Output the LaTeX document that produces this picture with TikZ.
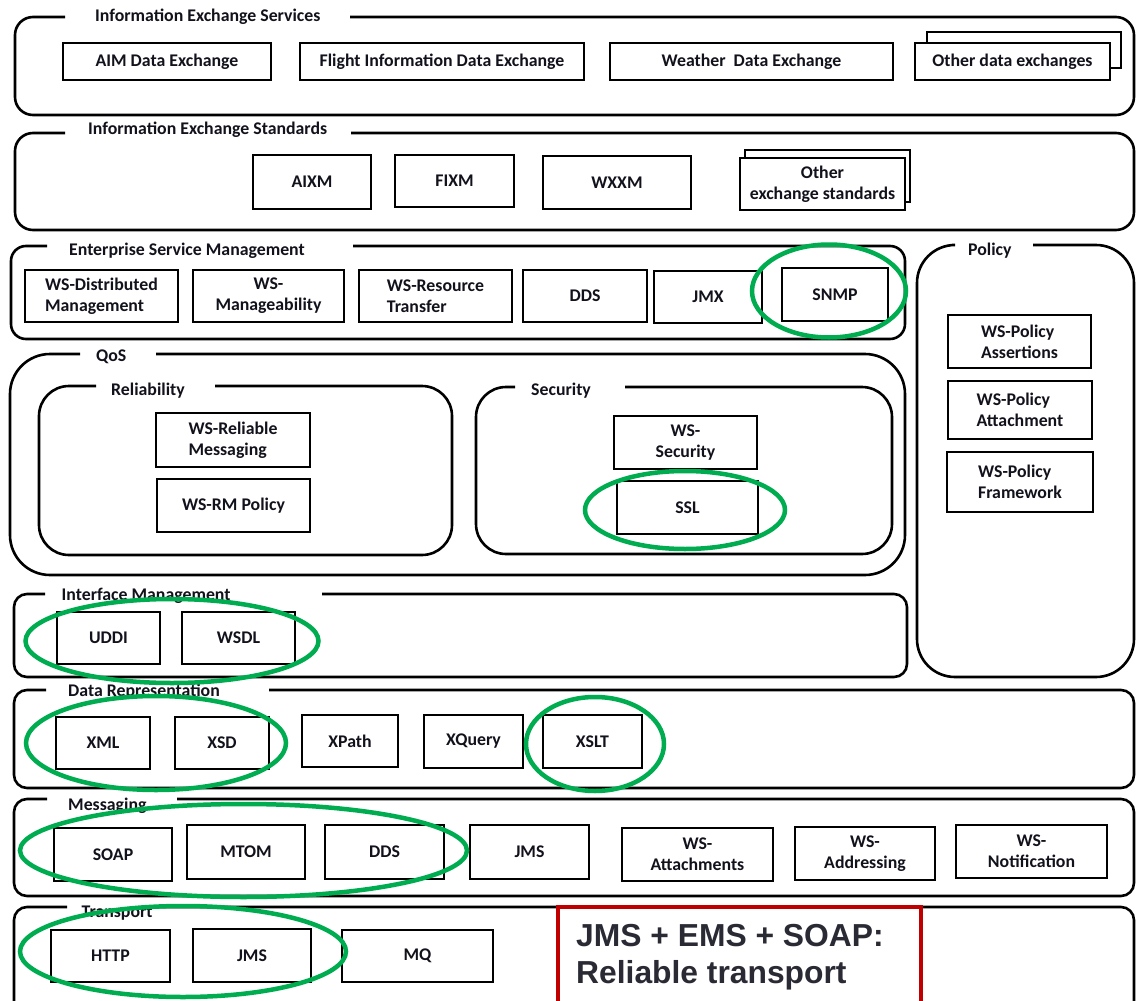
\documentclass[tikz,border=0pt]{standalone}
\usepackage{fontspec}
\setmainfont{Carlito}
\newfontfamily\arialf{Liberation Sans}
\usetikzlibrary{shapes.geometric}
\definecolor{ringgreen}{RGB}{0,172,80}
\definecolor{redbox}{RGB}{192,0,0}
\definecolor{txt}{RGB}{18,18,28}
\definecolor{redtxt}{RGB}{42,42,52}
\tikzset{
  panel/.style={line width=2.6pt, rounded corners=#1},
  panel/.default=14pt,
  box/.style={draw, line width=1.6pt, fill=white, align=center, inner sep=1pt,
    font=\bfseries\fontsize{17.8}{21}\selectfont, text=txt},
  thickbox/.style={line width=2.4pt},
  ptitle/.style={anchor=base west, inner sep=0pt, font=\bfseries\fontsize{17.8}{21}\selectfont, text=txt},
  ring/.style={draw=ringgreen, line width=4.5pt, ellipse, inner sep=0pt},
  redtext/.style={anchor=base west, inner sep=0pt, font=\arialf\bfseries\fontsize{31.8}{37}\selectfont, text=redtxt},
}
% panel: [radius]{x1}{y1}{x2}{y2}{gapL}{gapR}
\newcommand\panelpath[7][14pt]{\draw[panel=#1] (#7,#3) -- (#4,#3) -- (#4,#5) -- (#2,#5) -- (#2,#3) -- (#6,#3);}
% box: [opts]{x1}{y1}{x2}{y2}{name}{text}
\newcommand\bx[7][]{\node[box,#1,minimum width={#4-#2},minimum height={#5-#3}] (#6) at ({(#2+#4)/2},{(#3+#5)/2}) {#7};}
\begin{document}
\begin{tikzpicture}[x=1pt,y=-1pt]
\useasboundingbox (0,0) rectangle (1136,1001);
\fill[white] (0,0) rectangle (1136,1001);
\clip (0,0) rectangle (1136,1001);

% ---------- panels ----------
\panelpath[18pt]{15}{17}{1134}{115}{65}{350}
\panelpath[18pt]{15}{133}{1134}{230}{65}{351}
\panelpath[15pt]{11}{246}{905}{339}{47}{353}
\panelpath[38pt]{917}{245}{1134}{677}{952}{1033}
\panelpath[40pt]{10}{354}{905}{575}{80}{156}
\panelpath[30pt]{39}{386}{452}{555}{96}{215}
\panelpath[30pt]{476}{387}{892}{554}{515}{625}
\panelpath[13pt]{14}{594}{907}{677}{45}{322}
\panelpath[13pt]{14}{690}{1134}{788}{46}{269}
\panelpath[13pt]{14}{799}{1134}{896}{47}{177}
\panelpath[13pt]{14}{907}{1134}{1030}{67}{154}

% ---------- titles ----------
\node[ptitle] (tIES) at (95,21) {Information Exchange Services};
\node[ptitle] (tIEStd) at (88,134.5) {Information Exchange Standards};
\node[ptitle] (tESM) at (69,255) {Enterprise Service Management};
\node[ptitle] (tPol) at (968,255) {Policy};
\node[ptitle] (tQoS) at (96,361.5) {QoS};
\node[ptitle] (tRel) at (111,395) {Reliability};
\node[ptitle] (tSec) at (531,395) {Security};
\node[ptitle] (tIM) at (61.5,600.5) {Interface Management};
\node[ptitle] (tDR) at (68,696.5) {Data Representation};
\node[ptitle] (tMsg) at (68,810) {Messaging};
\node[ptitle] (tTr) at (81.5,917) {Transport};

% ---------- Information Exchange Services ----------
\bx[thickbox]{63}{43}{271}{80}{aim}{AIM Data Exchange}
\bx[thickbox]{300}{43}{584}{80}{fide}{Flight Information Data Exchange}
\bx[thickbox]{610}{43}{893}{80}{wde}{Weather\ \ Data Exchange}
\bx[thickbox]{927}{32}{1121}{68}{odeback}{}
\bx[thickbox]{915}{43}{1110}{80}{ode}{Other data exchanges}

% ---------- Information Exchange Standards ----------
\bx{253}{155}{371}{209}{aixm}{AIXM}
\bx{395}{155}{514}{207}{fixm}{FIXM}
\bx{543}{156}{691}{209}{wxxm}{WXXM}
\bx{745}{150}{910}{202}{oesback}{}
\bx{740}{158}{905}{210}{oes}{Other\\exchange standards}

% ---------- ESM ----------
\bx[align=left]{25}{270}{178}{322}{wsdm}{WS-Distributed\\Management}
\bx{193}{270}{344}{322}{wsman}{WS-\\Manageability}
\bx[align=left]{359}{270}{512}{322}{wsrt}{WS-Resource\\Transfer}
\bx{523}{270}{647}{322}{dds1}{DDS}
\bx{654}{271}{762}{323}{jmx}{JMX}
\bx{782}{268}{888}{321}{snmp}{SNMP}

% ---------- Policy ----------
\bx[align=left]{948}{315}{1091}{368}{wspa}{WS-Policy\\Assertions}
\bx[align=left]{948}{381}{1092}{439}{wspat}{WS-Policy\\Attachment}
\bx[align=left]{947}{452}{1093}{512}{wspf}{WS-Policy\\Framework}

% ---------- QoS ----------
\bx[align=left]{156}{413}{310}{467}{wsrm}{WS-Reliable\\Messaging}
\bx{157}{479}{310}{532}{wsrmp}{WS-RM Policy}
\bx{614}{416}{757}{469}{wssec}{WS-\\Security}
\bx{617}{481}{758}{534}{ssl}{SSL}

% ---------- Interface Management ----------
\bx{57}{612}{160}{664}{uddi}{UDDI}
\bx{182}{612}{295}{664}{wsdl}{WSDL}

% ---------- Data Representation ----------
\bx{56}{717}{150}{769}{xml}{XML}
\bx{175}{717}{269}{769}{xsd}{XSD}
\bx{302}{715}{398}{767}{xpath}{XPath}
\bx{424}{715}{523}{768}{xquery}{XQuery}
\bx{543}{715}{642}{768}{xslt}{XSLT}

% ---------- Messaging ----------
\bx{54}{828}{172}{881}{soap}{SOAP}
\bx{187}{825}{305}{879}{mtom}{MTOM}
\bx{325}{825}{444}{879}{dds2}{DDS}
\bx{470}{825}{589}{879}{jms1}{JMS}
\bx{622}{828}{773}{881}{wsatt}{WS-\\Attachments}
\bx{795}{827}{935}{880}{wsadd}{WS-\\Addressing}
\bx{956}{825}{1107}{878}{wsnot}{WS-\\Notification}

% ---------- Transport ----------
\bx{51}{930}{170}{982}{http}{HTTP}
\bx{193}{929}{311}{982}{jms2}{JMS}
\bx{342}{930}{493}{982}{mq}{MQ}

% ---------- green rings ----------
\node[ring, minimum width=154pt, minimum height=93pt] (rSNMP) at (829,291) {};
\node[ring, minimum width=200pt, minimum height=78pt] (rSSL) at (685,510) {};
\node[ring, minimum width=293pt, minimum height=84pt] (rIM) at (172,641) {};
\node[ring, minimum width=260pt, minimum height=94pt] (rDR1) at (156,743) {};
\node[ring, minimum width=138pt, minimum height=94pt] (rDR2) at (595,744) {};
\node[ring, minimum width=447pt, minimum height=93pt] (rMsg) at (243.5,850.5) {};
\node[ring, minimum width=326pt, minimum height=91pt] (rTr) at (183,951.5) {};

% ---------- red callout ----------
\node[draw=redbox, line width=4pt, fill=white, minimum width=363pt, minimum height=120pt, anchor=north west, inner sep=0pt] (rbox) at (556,904.5) {};
\node[redtext] (rt1) at (576,946.5) {JMS + EMS + SOAP:};
\node[redtext] (rt2) at (576,983.5) {Reliable transport};
\end{tikzpicture}
\end{document}
